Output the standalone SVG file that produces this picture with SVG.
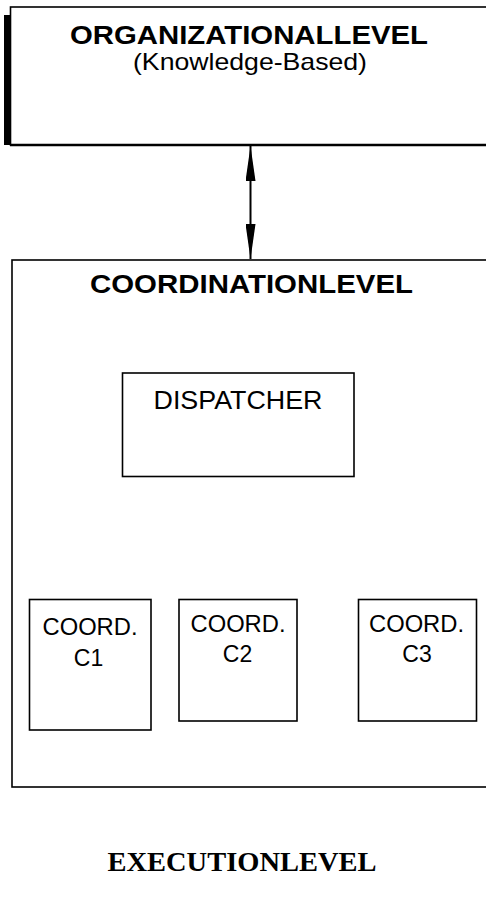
<svg xmlns="http://www.w3.org/2000/svg" width="486" height="897" viewBox="0 0 486 897">
<style>
.box{fill:#fff;stroke:#000;stroke-width:1.6}
.h{font-family:"Liberation Sans",Arial,sans-serif;font-weight:bold;fill:#000;text-anchor:middle}
.t{font-family:"Liberation Sans",Arial,sans-serif;fill:#000;text-anchor:middle}
.x{font-family:"Liberation Serif","Times New Roman",serif;font-weight:bold;fill:#000;text-anchor:middle}
</style>
<defs>
<marker id="ah" viewBox="0 0 35 10" refX="35" refY="5" markerWidth="35" markerHeight="10" markerUnits="userSpaceOnUse" orient="auto-start-reverse">
<path d="M0,0 L35,5 L0,10 Z" fill="#000"/>
</marker>
</defs>
<g id="organization">
<rect x="4" y="15" width="7" height="130" fill="#000"/>
<rect class="box" x="10.5" y="7" width="490" height="138"/>
<line x1="10" y1="145" x2="486" y2="145" stroke="#000" stroke-width="2.4"/>
<text class="h" x="249" y="44" font-size="26" textLength="358" lengthAdjust="spacingAndGlyphs">ORGANIZATIONALLEVEL</text>
<text class="t" x="250" y="70" font-size="24" textLength="234" lengthAdjust="spacingAndGlyphs">(Knowledge-Based)</text>
</g>
<g id="coordination">
<rect class="box" x="12" y="260" width="490" height="527"/>
<text class="h" x="251.5" y="293" font-size="26" textLength="323" lengthAdjust="spacingAndGlyphs">COORDINATIONLEVEL</text>
</g>
<g id="dispatcher">
<rect class="box" x="122.5" y="373" width="231.5" height="103.5"/>
<text class="t" x="238" y="409" font-size="25.5" textLength="169" lengthAdjust="spacingAndGlyphs">DISPATCHER</text>
</g>
<g id="c1">
<rect class="box" x="29.5" y="599.5" width="121.5" height="130.5"/>
<text class="t" x="90" y="635" font-size="23.5" textLength="95" lengthAdjust="spacingAndGlyphs">COORD.</text>
<text class="t" x="88.5" y="666" font-size="23">C1</text>
</g>
<g id="c2">
<rect class="box" x="179" y="599.5" width="118" height="121.5"/>
<text class="t" x="238" y="632" font-size="23.5" textLength="95" lengthAdjust="spacingAndGlyphs">COORD.</text>
<text class="t" x="237.5" y="662" font-size="23">C2</text>
</g>
<g id="c3">
<rect class="box" x="358.5" y="599.5" width="118" height="121.5"/>
<text class="t" x="416.5" y="632" font-size="23.5" textLength="95" lengthAdjust="spacingAndGlyphs">COORD.</text>
<text class="t" x="417" y="662" font-size="23">C3</text>
</g>
<g id="execution">
<text class="x" x="242" y="871" font-size="27" textLength="269" lengthAdjust="spacingAndGlyphs">EXECUTIONLEVEL</text>
</g>
<g id="connectors">
<line x1="250.5" y1="146" x2="250.5" y2="259" stroke="#000" stroke-width="2" marker-start="url(#ah)" marker-end="url(#ah)"/>
</g>
</svg>
